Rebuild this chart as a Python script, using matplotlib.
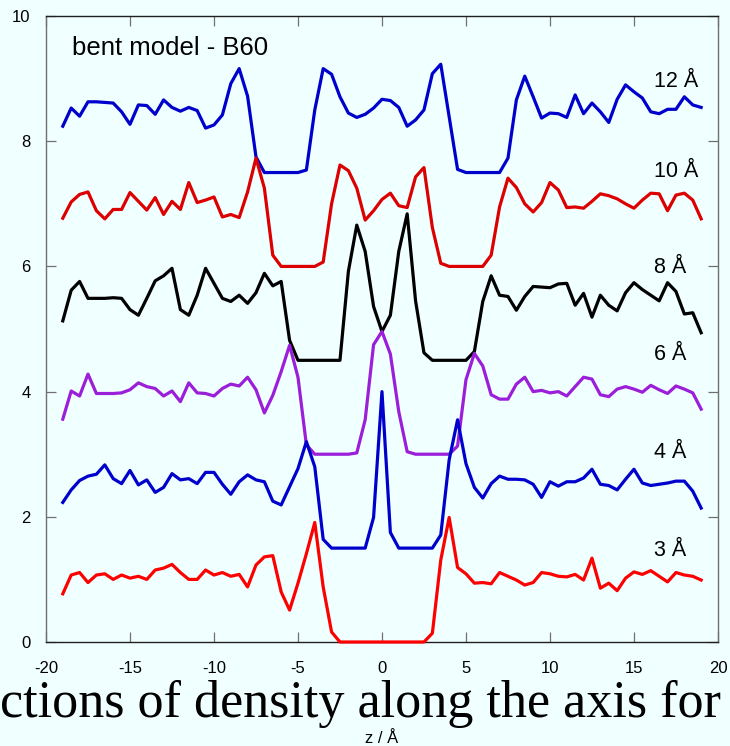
import numpy as np
import matplotlib

matplotlib.use("Agg")
import matplotlib.pyplot as plt

plt.rcParams["font.family"] = ["Liberation Sans", "DejaVu Sans"]
plt.rcParams["axes.unicode_minus"] = False

# sampling grid along the axis (Å)
z = np.linspace(-19, 19, 77)

d12 = [8.24, 8.53, 8.40, 8.63, 8.63, 8.62, 8.61, 8.47, 8.27, 8.58, 8.57, 8.43, 8.66, 8.54,
       8.48, 8.54, 8.49, 8.21, 8.26, 8.42, 8.92, 9.16, 8.72, 7.75, 7.50, 7.50, 7.50, 7.50,
       7.50, 7.54, 8.50, 9.16, 9.07, 8.71, 8.45, 8.38, 8.43, 8.53, 8.67, 8.65, 8.54, 8.24,
       8.34, 8.50, 9.08, 9.23, 8.39, 7.55, 7.50, 7.50, 7.50, 7.50, 7.50, 7.73, 8.66, 9.04,
       8.71, 8.37, 8.45, 8.44, 8.38, 8.74, 8.44, 8.61, 8.47, 8.30, 8.67, 8.90, 8.79, 8.69,
       8.47, 8.44, 8.51, 8.51, 8.71, 8.58, 8.54]
d10 = [6.77, 7.03, 7.15, 7.19, 6.89, 6.76, 6.91, 6.91, 7.18, 7.04, 6.90, 7.10, 6.83, 7.04,
       6.91, 7.34, 7.02, 7.06, 7.11, 6.79, 6.83, 6.78, 7.19, 7.73, 7.25, 6.18, 6.00, 6.00,
       6.00, 6.00, 6.00, 6.07, 7.00, 7.62, 7.53, 7.25, 6.74, 6.89, 7.07, 7.17, 6.97, 6.94,
       7.43, 7.58, 6.62, 6.05, 6.00, 6.00, 6.00, 6.00, 6.00, 6.18, 6.95, 7.41, 7.26, 7.00,
       6.87, 7.02, 7.34, 7.22, 6.94, 6.95, 6.93, 7.04, 7.16, 7.13, 7.08, 7.00, 6.93, 7.06,
       7.17, 7.16, 6.89, 7.14, 7.17, 7.06, 6.76]
d8 = [5.13, 5.62, 5.76, 5.49, 5.49, 5.49, 5.50, 5.49, 5.31, 5.22, 5.49, 5.77, 5.85, 5.97,
      5.31, 5.22, 5.54, 5.97, 5.73, 5.49, 5.44, 5.54, 5.41, 5.58, 5.89, 5.69, 5.76, 4.82,
      4.50, 4.50, 4.50, 4.50, 4.50, 4.50, 5.92, 6.66, 6.24, 5.36, 4.96, 5.22, 6.24, 6.84,
      5.45, 4.62, 4.50, 4.50, 4.50, 4.50, 4.50, 4.64, 5.44, 5.85, 5.54, 5.52, 5.30, 5.52,
      5.68, 5.67, 5.66, 5.72, 5.73, 5.38, 5.57, 5.19, 5.54, 5.38, 5.29, 5.58, 5.74, 5.63,
      5.54, 5.45, 5.74, 5.60, 5.24, 5.26, 4.94]
d6 = [3.56, 4.01, 3.93, 4.28, 3.97, 3.97, 3.97, 3.98, 4.03, 4.14, 4.08, 4.05, 3.93, 4.01,
      3.84, 4.14, 3.98, 3.97, 3.93, 4.05, 4.12, 4.09, 4.23, 4.03, 3.66, 3.94, 4.32, 4.74,
      4.23, 3.15, 3.00, 3.00, 3.00, 3.00, 3.00, 3.02, 3.55, 4.75, 4.96, 4.60, 3.68, 3.04,
      3.00, 3.00, 3.00, 3.00, 3.00, 3.13, 4.19, 4.61, 4.41, 3.95, 3.88, 3.88, 4.12, 4.23,
      4.00, 4.02, 3.98, 4.00, 3.93, 4.08, 4.23, 4.20, 3.95, 3.92, 4.04, 4.08, 4.04, 3.99,
      4.10, 4.03, 3.97, 4.09, 4.04, 3.98, 3.72]
d4 = [2.23, 2.43, 2.58, 2.65, 2.68, 2.83, 2.61, 2.53, 2.74, 2.51, 2.59, 2.39, 2.47, 2.69,
      2.59, 2.61, 2.53, 2.71, 2.71, 2.52, 2.36, 2.56, 2.67, 2.59, 2.56, 2.25, 2.19, 2.48,
      2.77, 3.20, 2.80, 1.64, 1.50, 1.50, 1.50, 1.50, 1.50, 1.99, 4.00, 1.75, 1.50, 1.50,
      1.50, 1.50, 1.50, 1.71, 2.91, 3.55, 2.85, 2.47, 2.30, 2.53, 2.65, 2.60, 2.60, 2.59,
      2.52, 2.31, 2.56, 2.49, 2.56, 2.56, 2.62, 2.76, 2.52, 2.50, 2.43, 2.60, 2.76, 2.54,
      2.50, 2.52, 2.54, 2.57, 2.57, 2.41, 2.14]
d3 = [0.77, 1.07, 1.11, 0.95, 1.07, 1.09, 1.00, 1.07, 1.02, 1.05, 1.00, 1.15, 1.18, 1.24,
      1.11, 1.00, 1.00, 1.15, 1.07, 1.11, 1.05, 1.08, 0.88, 1.23, 1.36, 1.38, 0.80, 0.51,
      0.94, 1.41, 1.91, 0.88, 0.16, 0.00, 0.00, 0.00, 0.00, 0.00, 0.00, 0.00, 0.00, 0.00,
      0.00, 0.00, 0.14, 1.31, 1.99, 1.19, 1.09, 0.94, 0.95, 0.93, 1.11, 1.05, 0.99, 0.91,
      0.95, 1.11, 1.09, 1.05, 1.04, 1.08, 0.99, 1.34, 0.86, 0.94, 0.82, 1.02, 1.12, 1.08,
      1.14, 1.05, 0.96, 1.11, 1.07, 1.05, 0.99]

curves = [d12, d10, d8, d6, d4, d3]
labels = ["12 Å", "10 Å", "8 Å", "6 Å", "4 Å", "3 Å"]
label_y = [8.87, 7.43, 5.89, 4.50, 2.94, 1.37]
colors = ["#0000CC", "#DD0000", "#000000", "#9B1ED8", "#0000CC", "#FF0000"]

x_ticks = [-20, -15, -10, -5, 0, 5, 10, 15, 20]
y_ticks = [0, 2, 4, 6, 8, 10]

bg = "#F0FFFF"
fig = plt.figure(figsize=(7.30, 7.46), dpi=100, facecolor=bg)
ax = fig.add_axes([0.0630, 0.1394, 0.9205, 0.8391], facecolor=bg)

for vals, col in zip(curves, colors):
    ax.plot(z, vals, color=col, linewidth=2.3, clip_on=False, zorder=3)

for lab, ly in zip(labels, label_y):
    ax.text(16.19, ly, lab, fontsize=15.5, va="baseline", ha="left")

ax.text(-18.45, 9.37, "bent model - B60", fontsize=18.5, va="baseline", ha="left")

ax.set_xlim(-20, 20)
ax.set_ylim(0, 10)
ax.set_xticks(x_ticks)
ax.set_xticklabels([str(t) for t in x_ticks])
ax.set_yticks(y_ticks)
ax.tick_params(axis="both", direction="in", length=7, width=0.9, color="#707070",
               top=True, right=True, labelsize=12)
ax.tick_params(axis="x", pad=14)
ax.tick_params(axis="y", pad=11)
for side in ("left", "right"):
    ax.spines[side].set_color("#707070")
for side in ("top", "bottom"):
    ax.spines[side].set_color("#202020")
for sp in ax.spines.values():
    sp.set_linewidth(1.0)

fig.text(0.0, 0.0389, "ctions of density along the axis for", fontsize=37.5,
         family=["Liberation Serif", "DejaVu Serif"], va="baseline", ha="left")

ax.set_xlabel("z / Å", fontsize=12)
ax.xaxis.set_label_coords(0.5, -0.142)

fig.savefig("out.png", dpi=100, facecolor=bg)
